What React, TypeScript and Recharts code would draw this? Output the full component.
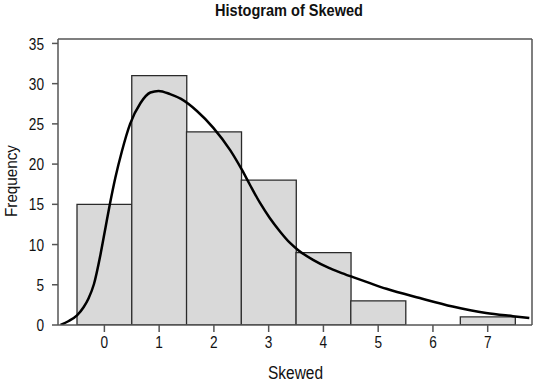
import React from 'react';
import {
  ComposedChart,
  Bar,
  Line,
  XAxis,
  YAxis,
  Label,
} from 'recharts';

// histogram bins (centre of each bin) and counts
const binCenters = [0, 1, 2, 3, 4, 5, 6, 7];
const binCounts = [15, 31, 24, 18, 9, 3, 0, 1];

// fitted curve
const curveX = [
  -0.8, -0.65, -0.5, -0.38, -0.29, -0.19, -0.07, 0.02, 0.1, 0.2, 0.32, 0.47, 0.66, 0.84,
  0.99, 1.2, 1.4, 1.69, 1.99, 2.3, 2.51, 2.66, 2.84, 3.02, 3.21, 3.39, 3.54, 3.81, 4.1,
  4.3, 4.54, 4.85, 5.15, 5.76, 6.36, 6.97, 7.46, 7.76,
];
const curveY = [
  0, 0.5, 1.2, 2.2, 3.3, 5.1, 8.8, 12.1, 15.0, 18.3, 21.6, 25.0, 27.6, 28.9,
  29.1, 28.7, 28.1, 26.6, 24.5, 21.7, 19.3, 17.4, 15.2, 13.3, 11.6, 10.2, 9.3, 8.1, 7.1,
  6.55, 5.95, 5.2, 4.5, 3.35, 2.3, 1.5, 1.1, 0.87,
];

const xTicks = [0, 1, 2, 3, 4, 5, 6, 7];
const yTicks = [0, 5, 10, 15, 20, 25, 30, 35];

const X_DOMAIN: [number, number] = [-0.847, 7.809];
const Y_DOMAIN: [number, number] = [0, 35.55];

const FONT = '"Liberation Sans", Arial, sans-serif';
const FRAME = '#555555';
const INK = '#111';

const W = 535;
const H = 384;
const LEFT = 58;
const RIGHT = 2;
const TOP = 38;
const XAXIS_H = 59;

const bins = binCenters.map((x, i) => ({ x, count: binCounts[i] }));
const curve = curveX.map((x, i) => ({ x, fit: curveY[i] }));

// the original uses a condensed face; squeeze Liberation Sans to match
const DIGIT_W = 7.6;

const YTick = ({ x, y, payload }: any) => {
  const s = String(payload.value);
  return (
    <text
      x={x}
      y={y}
      dy="0.36em"
      textAnchor="end"
      fontFamily={FONT}
      fontSize={17}
      fill={INK}
      textLength={s.length * DIGIT_W}
      lengthAdjust="spacingAndGlyphs"
    >
      {s}
    </text>
  );
};

const XTick = ({ x, y, payload }: any) => {
  const s = String(payload.value);
  return (
    <text
      x={x}
      y={y}
      dy="0.72em"
      textAnchor="middle"
      fontFamily={FONT}
      fontSize={17}
      fill={INK}
      textLength={s.length * DIGIT_W}
      lengthAdjust="spacingAndGlyphs"
    >
      {s}
    </text>
  );
};

export default function App() {
  return (
    <div style={{ position: 'absolute', left: 0, top: 0, width: W, height: H, background: '#fff' }}>
      <ComposedChart
        width={W}
        height={H}
        data={bins}
        margin={{ top: TOP, right: RIGHT, bottom: 0, left: 0 }}
        barGap={0}
        barCategoryGap={0}
      >
        <XAxis
          dataKey="x"
          type="number"
          domain={X_DOMAIN}
          ticks={xTicks}
          allowDataOverflow
          height={XAXIS_H}
          tickSize={7}
          tickMargin={4}
          tick={<XTick />}
          stroke={FRAME}
          strokeWidth={1.5}
        >
          <Label
            content={() => (
              <text
                x={295.5}
                y={379}
                textAnchor="middle"
                fontFamily={FONT}
                fontSize={18}
                fill={INK}
                textLength={55}
                lengthAdjust="spacingAndGlyphs"
              >
                Skewed
              </text>
            )}
          />
        </XAxis>
        <XAxis
          xAxisId="top"
          dataKey="x"
          orientation="top"
          type="number"
          domain={X_DOMAIN}
          allowDataOverflow
          height={1}
          tick={false}
          tickLine={false}
          stroke={FRAME}
          strokeWidth={1.5}
        >
          <Label
            content={() => (
              <text
                x={289}
                y={16}
                textAnchor="middle"
                fontFamily={FONT}
                fontWeight="bold"
                fontSize={16}
                fill={INK}
                textLength={148}
                lengthAdjust="spacingAndGlyphs"
              >
                Histogram of Skewed
              </text>
            )}
          />
        </XAxis>
        <YAxis
          type="number"
          domain={Y_DOMAIN}
          ticks={yTicks}
          allowDataOverflow
          width={LEFT}
          tickSize={6}
          tickMargin={8}
          tick={<YTick />}
          stroke={FRAME}
          strokeWidth={1.5}
        >
          <Label
            content={() => (
              <text
                x={17}
                y={181}
                transform="rotate(-90 17 181)"
                textAnchor="middle"
                fontFamily={FONT}
                fontSize={17}
                fill={INK}
                textLength={72}
                lengthAdjust="spacingAndGlyphs"
              >
                Frequency
              </text>
            )}
          />
        </YAxis>
        <YAxis
          yAxisId="right"
          orientation="right"
          type="number"
          domain={Y_DOMAIN}
          allowDataOverflow
          width={1}
          tick={false}
          tickLine={false}
          stroke={FRAME}
          strokeWidth={1.5}
        />
        <Bar
          dataKey="count"
          fill="#d9d9d9"
          stroke="#2a2a2a"
          strokeWidth={1.3}
          isAnimationActive={false}
        />
        <Line
          data={curve}
          xAxisId="top"
          yAxisId="right"
          dataKey="fit"
          type="monotone"
          stroke="#000"
          strokeWidth={2.5}
          dot={false}
          activeDot={false}
          isAnimationActive={false}
        />
      </ComposedChart>
    </div>
  );
}
